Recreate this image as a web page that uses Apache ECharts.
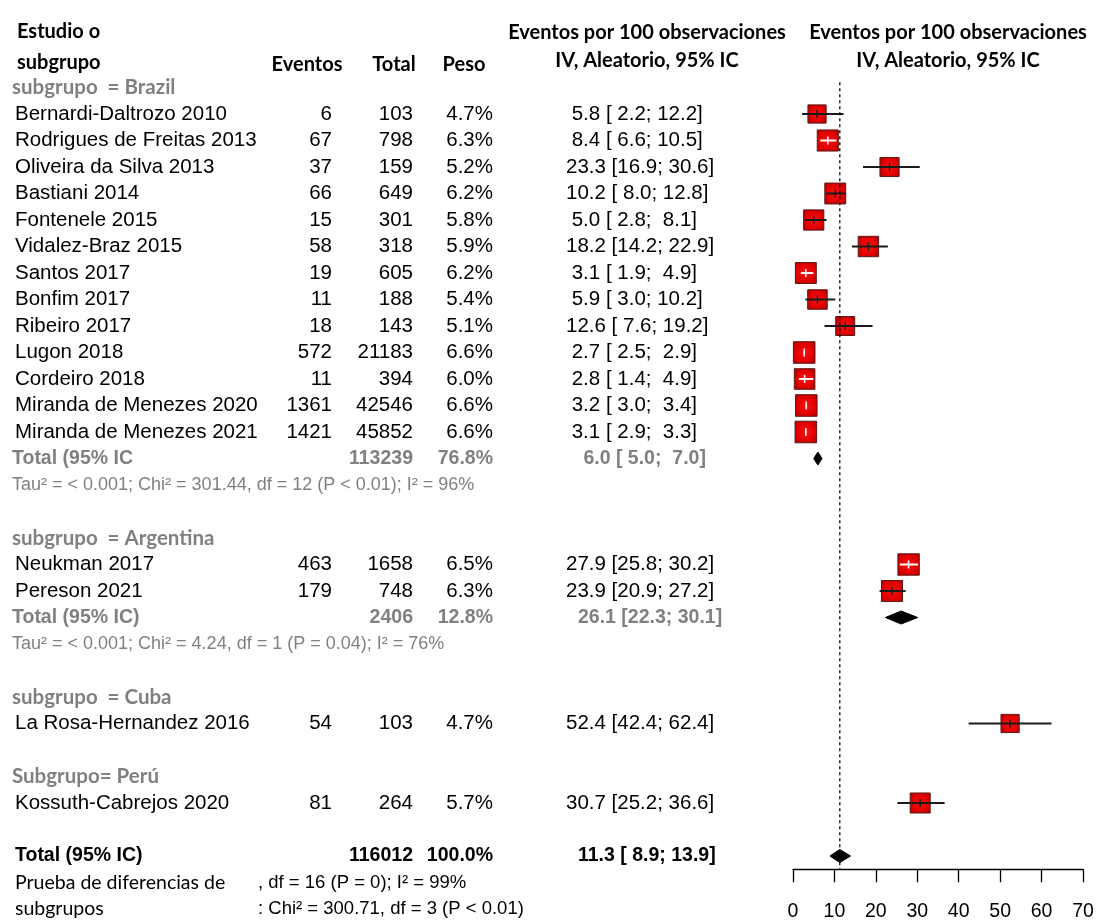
<!DOCTYPE html>
<html><head><meta charset="utf-8">
<script src="https://cdn.jsdelivr.net/npm/echarts@6/dist/echarts.min.js"></script>
<style>html,body{margin:0;padding:0;background:#fff}#c{width:1096px;height:923px}</style>
</head><body><div id="c"></div>
<script>
// ================= DATA =================
const groupNames = ['subgrupo  = Brazil', 'subgrupo  = Argentina', 'subgrupo  = Cuba', 'Subgrupo= Perú'];
const groupSizes = [13, 2, 1, 1];
const studies = ['Bernardi-Daltrozo 2010', 'Rodrigues de Freitas 2013', 'Oliveira da Silva 2013', 'Bastiani 2014',
  'Fontenele 2015', 'Vidalez-Braz 2015', 'Santos 2017', 'Bonfim 2017', 'Ribeiro 2017', 'Lugon 2018', 'Cordeiro 2018',
  'Miranda de Menezes 2020', 'Miranda de Menezes 2021', 'Neukman 2017', 'Pereson 2021', 'La Rosa-Hernandez 2016',
  'Kossuth-Cabrejos 2020'];
const events = [6, 67, 37, 66, 15, 58, 19, 11, 18, 572, 11, 1361, 1421, 463, 179, 54, 81];
const totals = [103, 798, 159, 649, 301, 318, 605, 188, 143, 21183, 394, 42546, 45852, 1658, 748, 103, 264];
const weights = [4.7, 6.3, 5.2, 6.2, 5.8, 5.9, 6.2, 5.4, 5.1, 6.6, 6.0, 6.6, 6.6, 6.5, 6.3, 4.7, 5.7];
const estimates = [5.8, 8.4, 23.3, 10.2, 5.0, 18.2, 3.1, 5.9, 12.6, 2.7, 2.8, 3.2, 3.1, 27.9, 23.9, 52.4, 30.7];
const lowerCI = [2.2, 6.6, 16.9, 8.0, 2.8, 14.2, 1.9, 3.0, 7.6, 2.5, 1.4, 3.0, 2.9, 25.8, 20.9, 42.4, 25.2];
const upperCI = [12.2, 10.5, 30.6, 12.8, 8.1, 22.9, 4.9, 10.2, 19.2, 2.9, 4.9, 3.4, 3.3, 30.2, 27.2, 62.4, 36.6];

// subgroup summaries (groups with more than one study)
const subTotalLabels = ['Total (95% IC', 'Total (95% IC)'];
const subTotalN = [113239, 2406];
const subWeights = [76.8, 12.8];
const subEst = [6.0, 26.1];
const subLo = [5.0, 22.3];
const subHi = [7.0, 30.1];
const subHet = ['Tau\u00b2 = < 0.001; Chi\u00b2 = 301.44, df = 12 (P < 0.01); I\u00b2 = 96%',
  'Tau\u00b2 = < 0.001; Chi\u00b2 = 4.24, df = 1 (P = 0.04); I\u00b2 = 76%'];

// overall
const overallLabel = 'Total (95% IC)';
const overallN = [116012];
const overallWeight = [100.0];
const overallEst = [11.3];
const overallLo = [8.9];
const overallHi = [13.9];
const testLabels = ['Prueba de diferencias de', 'subgrupos'];
const testTexts = [', df = 16 (P = 0); I\u00b2 = 99%', ': Chi\u00b2 = 300.71, df = 3 (P < 0.01)'];

// headers & axis
const headStudy = ['Estudio o', 'subgrupo'];
const headCols = ['Eventos', 'Total', 'Peso'];
const headEffect = ['Eventos por 100 observaciones', 'IV, Aleatorio, 95% IC'];
const axisMin = 0, axisMax = 70, axisStep = 10;

// ================= LAYOUT =================
const ROW_H = 26.5, ROW0_Y = 87.5;
const COL = {study: 15, group: 12, events: 332, total: 413, peso: 493, ci: 566, ciTot: 578, test: 258,
  headStudy: 17, headEvents: 307, headTotal: 394, headPeso: 464, headEff1: 647, headEff2: 948};
const PLOT_LEFT = 793, PLOT_RIGHT = 1083;
const BOX_SCALE = 8.4, DIAMOND_H = 13;

const BODY = {fontFamily: 'Liberation Sans', fontSize: 20.5, fontWeight: 'normal', fill: '#000'};
const SUBTOT = {fontFamily: 'Liberation Sans', fontSize: 19.5, fontWeight: 'bold', fill: '#808080'};
const HET = {fontFamily: 'Liberation Sans', fontSize: 18, fontWeight: 'normal', fill: '#808080'};
const HEAD = {fontFamily: 'Lato', fontSize: 20, fontWeight: 'bold', fill: '#000'};
const GROUP = {fontFamily: 'Lato', fontSize: 20.5, fontWeight: 'bold', fill: '#808080'};
const TOT = {fontFamily: 'Liberation Sans', fontSize: 19.5, fontWeight: 'bold', fill: '#000'};
const TEST = {fontFamily: 'Lato', fontSize: 19.5, fontWeight: 'normal', fill: '#000'};
const TESTTXT = {fontFamily: 'Liberation Sans', fontSize: 18.5, fontWeight: 'normal', fill: '#000'};

const fmt = v => (v < 10 ? ' ' : '') + v.toFixed(1);
const ciText = (e, l, h) => fmt(e) + ' [' + fmt(l) + '; ' + fmt(h) + ']';

// build rows and text cells
const cells = [];
const add = (x, row, text, align, st) => cells.push({x, row, text: String(text), align, st});
const studyRows = [];
const subRows = [];
let row = 0, si = 0, sub = 0;
groupNames.forEach((g, gi) => {
  add(COL.group, row, g, 'left', GROUP);
  row++;
  for (let k = 0; k < groupSizes[gi]; k++, si++) {
    studyRows.push(row);
    add(COL.study, row, studies[si], 'left', BODY);
    add(COL.events, row, events[si], 'right', BODY);
    add(COL.total, row, totals[si], 'right', BODY);
    add(COL.peso, row, weights[si].toFixed(1) + '%', 'right', BODY);
    add(COL.ci, row, ciText(estimates[si], lowerCI[si], upperCI[si]), 'left', BODY);
    row++;
  }
  if (groupSizes[gi] > 1) {
    subRows.push(row);
    add(COL.group, row, subTotalLabels[sub], 'left', SUBTOT);
    add(COL.total, row, subTotalN[sub], 'right', SUBTOT);
    add(COL.peso, row, subWeights[sub].toFixed(1) + '%', 'right', SUBTOT);
    add(COL.ciTot, row, ciText(subEst[sub], subLo[sub], subHi[sub]), 'left', SUBTOT);
    row++;
    add(COL.group, row, subHet[sub], 'left', HET);
    row++;
    sub++;
  }
  row++;
});
const overallRow = row;
add(COL.study, overallRow, overallLabel, 'left', TOT);
add(COL.total, overallRow, overallN[0], 'right', TOT);
add(COL.peso, overallRow, overallWeight[0].toFixed(1) + '%', 'right', TOT);
add(COL.ciTot, overallRow, ciText(overallEst[0], overallLo[0], overallHi[0]), 'left', TOT);
testLabels.forEach((t, i) => {
  add(COL.study, overallRow + 1 + i, t, 'left', TEST);
  add(COL.test, overallRow + 1 + i, testTexts[i], 'left', TESTTXT);
});
// headers
add(COL.headStudy, -2.13, headStudy[0], 'left', HEAD);
add(COL.headStudy, -0.96, headStudy[1], 'left', HEAD);
add(COL.headEvents, -0.85, headCols[0], 'center', HEAD);
add(COL.headTotal, -0.85, headCols[1], 'center', HEAD);
add(COL.headPeso, -0.85, headCols[2], 'center', HEAD);
[COL.headEff1, COL.headEff2].forEach(x => {
  add(x, -2.08, headEffect[0], 'center', HEAD);
  add(x, -1.02, headEffect[1], 'center', HEAD);
});

const boxFill = {type: 'radial', x: 0.5, y: 0.5, r: 0.72,
  colorStops: [{offset: 0, color: '#ff1010'}, {offset: 0.55, color: '#e00000'}, {offset: 1, color: '#a80000'}]};

const chart = echarts.init(document.getElementById('c'), null, {renderer: 'canvas'});
chart.setOption({
  animation: false,
  backgroundColor: '#fff',
  grid: [
    {left: 0, top: ROW0_Y - 3 * ROW_H, width: 1096, height: 34 * ROW_H, containLabel: false, outerBoundsMode: 'none'},
    {left: PLOT_LEFT, top: ROW0_Y - 0.5 * ROW_H, width: PLOT_RIGHT - PLOT_LEFT, height: 30 * ROW_H,
      containLabel: false, outerBoundsMode: 'none'}
  ],
  xAxis: [
    {gridIndex: 0, type: 'value', min: 0, max: 1096, show: false},
    {gridIndex: 1, type: 'value', min: axisMin, max: axisMax, interval: axisStep, position: 'bottom',
      axisLine: {show: true, onZero: false, lineStyle: {color: '#000', width: 1.3}},
      axisTick: {show: true, length: 13, lineStyle: {color: '#000', width: 1.3}},
      axisLabel: {show: true, margin: 32, color: '#000', fontFamily: 'Liberation Sans', fontSize: 19.5},
      splitLine: {show: false}}
  ],
  yAxis: [
    {gridIndex: 0, type: 'value', inverse: true, min: -3, max: 31, show: false},
    {gridIndex: 1, type: 'value', inverse: true, min: -0.5, max: 29.5, show: false}
  ],
  series: [
    {
      type: 'custom', xAxisIndex: 0, yAxisIndex: 0, clip: false, silent: true,
      data: cells.map(c => [c.x, c.row]),
      renderItem: (params, api) => {
        const c = cells[params.dataIndex];
        const p = api.coord([c.x, c.row]);
        return {type: 'text', x: p[0], y: p[1], style: Object.assign({
          text: c.text, align: c.align, verticalAlign: 'middle'}, c.st)};
      }
    },
    {
      type: 'line', xAxisIndex: 1, yAxisIndex: 1, symbol: 'none', silent: true,
      data: [[overallEst[0], -0.2], [overallEst[0], overallRow + 0.5]],
      lineStyle: {color: '#000', width: 1.3, type: [3, 3]}
    },
    {
      type: 'custom', xAxisIndex: 1, yAxisIndex: 1, clip: false, silent: true,
      data: estimates.map((e, i) => [e, lowerCI[i], upperCI[i], studyRows[i], weights[i]]),
      renderItem: (params, api) => {
        const r = api.value(3);
        const c = api.coord([api.value(0), r]);
        const l = api.coord([api.value(1), r]);
        const h = api.coord([api.value(2), r]);
        const s = BOX_SCALE * Math.sqrt(api.value(4));
        const inside = (h[0] - l[0]) < s - 2;
        const col = inside ? '#ffffff' : '#1a1a1a';
        return {type: 'group', children: [
          {type: 'rect', shape: {x: c[0] - s / 2, y: c[1] - s / 2, width: s, height: s},
            style: {fill: boxFill, stroke: '#5a1a1a', lineWidth: 1}},
          {type: 'line', shape: {x1: l[0], y1: c[1], x2: h[0], y2: c[1]}, style: {stroke: col, lineWidth: 2}},
          {type: 'line', shape: {x1: c[0], y1: c[1] - 4, x2: c[0], y2: c[1] + 4}, style: {stroke: col, lineWidth: 1.5}}
        ]};
      }
    },
    {
      type: 'custom', xAxisIndex: 1, yAxisIndex: 1, clip: false, silent: true,
      data: subEst.map((e, i) => [e, subLo[i], subHi[i], subRows[i]])
        .concat([[overallEst[0], overallLo[0], overallHi[0], overallRow]]),
      renderItem: (params, api) => {
        const r = api.value(3);
        const c = api.coord([api.value(0), r]);
        const l = api.coord([api.value(1), r]);
        const h = api.coord([api.value(2), r]);
        return {type: 'polygon', shape: {points: [[l[0], c[1]], [c[0], c[1] - DIAMOND_H / 2], [h[0], c[1]], [c[0], c[1] + DIAMOND_H / 2]]},
          style: {fill: '#000', stroke: '#000', lineWidth: 1}};
      }
    }
  ]
});
</script>
</body></html>
